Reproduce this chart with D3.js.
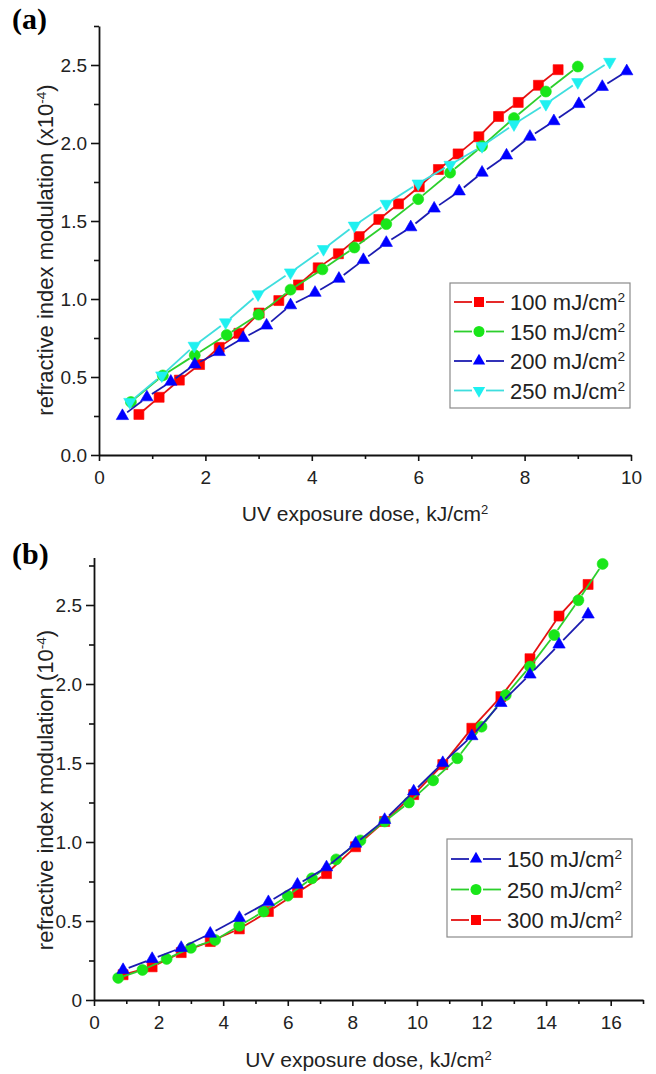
<!DOCTYPE html>
<html>
<head>
<meta charset="utf-8">
<script src="https://cdn.jsdelivr.net/npm/d3@7"></script>
<style>
  body { margin: 0; background: #fff; }
  svg text { fill: #222; }
</style>
</head>
<body>
<div id="chart"></div>
<script>
// panel (a): dose (kJ/cm2) and modulation (x10^-4) per intensity
var a100Dose = [0.75, 1.13, 1.51, 1.89, 2.26, 2.63, 3.01, 3.38, 3.75, 4.12, 4.50, 4.89, 5.26, 5.63, 6.02, 6.38, 6.75, 7.14, 7.51, 7.88, 8.26, 8.63];
var a100Mod  = [0.26, 0.37, 0.48, 0.58, 0.69, 0.78, 0.91, 0.99, 1.09, 1.20, 1.29, 1.40, 1.51, 1.61, 1.72, 1.83, 1.93, 2.04, 2.17, 2.26, 2.37, 2.47];
var a150Dose = [0.6, 1.2, 1.8, 2.4, 3.0, 3.6, 4.2, 4.8, 5.4, 6.0, 6.6, 7.2, 7.8, 8.4, 9.0];
var a150Mod  = [0.34, 0.51, 0.64, 0.77, 0.90, 1.06, 1.19, 1.33, 1.48, 1.64, 1.81, 1.98, 2.16, 2.33, 2.49];
var a200Dose = [0.44, 0.90, 1.35, 1.80, 2.26, 2.71, 3.15, 3.60, 4.06, 4.51, 4.97, 5.40, 5.86, 6.30, 6.77, 7.20, 7.66, 8.10, 8.55, 9.02, 9.46, 9.92];
var a200Mod  = [0.25, 0.37, 0.47, 0.58, 0.66, 0.75, 0.83, 0.96, 1.04, 1.13, 1.25, 1.36, 1.46, 1.58, 1.69, 1.81, 1.92, 2.04, 2.14, 2.25, 2.36, 2.46];
var a250Dose = [0.58, 1.18, 1.79, 2.38, 2.99, 3.60, 4.22, 4.80, 5.40, 6.00, 6.60, 7.20, 7.80, 8.40, 9.00, 9.60];
var a250Mod  = [0.34, 0.51, 0.70, 0.85, 1.03, 1.17, 1.32, 1.47, 1.61, 1.74, 1.86, 1.98, 2.12, 2.25, 2.39, 2.52];

// panel (b)
var b150Dose = [0.9, 1.8, 2.7, 3.6, 4.5, 5.4, 6.3, 7.2, 8.1, 9.0, 9.9, 10.8, 11.7, 12.6, 13.5, 14.4, 15.3];
var b150Mod  = [0.19, 0.26, 0.33, 0.42, 0.52, 0.62, 0.73, 0.84, 0.99, 1.14, 1.32, 1.50, 1.67, 1.88, 2.06, 2.25, 2.44];
var b250Dose = [0.75, 1.5, 2.25, 3.0, 3.75, 4.5, 5.25, 6.0, 6.75, 7.5, 8.25, 9.0, 9.75, 10.5, 11.25, 12.0, 12.75, 13.5, 14.25, 15.0, 15.75];
var b250Mod  = [0.14, 0.19, 0.26, 0.33, 0.38, 0.47, 0.56, 0.66, 0.77, 0.89, 1.01, 1.13, 1.25, 1.39, 1.53, 1.73, 1.93, 2.11, 2.31, 2.53, 2.76];
var b300Dose = [0.9, 1.8, 2.7, 3.6, 4.5, 5.4, 6.3, 7.2, 8.1, 9.0, 9.9, 10.8, 11.7, 12.6, 13.5, 14.4, 15.3];
var b300Mod  = [0.16, 0.21, 0.30, 0.37, 0.45, 0.56, 0.68, 0.80, 0.97, 1.13, 1.30, 1.49, 1.72, 1.92, 2.16, 2.43, 2.63];

// ticks
var aXMajor = [0, 2, 4, 6, 8, 10];
var aXMinor = [1, 3, 5, 7, 9];
var bXMajor = [0, 2, 4, 6, 8, 10, 12, 14, 16];
var bXMinor = [1, 3, 5, 7, 9, 11, 13, 15, 17];
var yMajor = [0, 0.5, 1.0, 1.5, 2.0, 2.5];
var yMinor = [0.25, 0.75, 1.25, 1.75, 2.25, 2.75];

var SANS = "'Liberation Sans', Arial, sans-serif";
var SERIF = "'Liberation Serif', 'Times New Roman', serif";

var RED = {marker: "#ff0000", line: "#e31212"};
var GREEN = {marker: "#19e619", line: "#2ccf2c"};
var BLUE = {marker: "#0000ff", line: "#1c1cb0"};
var CYAN = {marker: "#1ff0f0", line: "#3fdede"};

var svg = d3.select("#chart").append("svg")
    .attr("width", 656)
    .attr("height", 1074)
    .style("font-family", SANS);

function markerPath(shape) {
    if (shape == "square") return d3.symbol().type(d3.symbolSquare).size(100)();
    if (shape == "circle") return d3.symbol().type(d3.symbolCircle).size(95)();
    return d3.symbol().type(d3.symbolTriangle).size(66)();
}

function drawSeries(g, x, y, s) {
    var pts = s.dose.map(function(d, i) { return [x(d), y(s.mod[i])]; });
    var gap = 6;
    var segs = [];
    for (var i = 1; i < pts.length; i++) {
        var dx = pts[i][0] - pts[i-1][0], dy = pts[i][1] - pts[i-1][1];
        var len = Math.sqrt(dx*dx + dy*dy);
        if (len <= gap * 2) continue;
        var ux = dx / len, uy = dy / len;
        segs.push([pts[i-1][0] + ux*gap, pts[i-1][1] + uy*gap, pts[i][0] - ux*gap, pts[i][1] - uy*gap]);
    }
    g.append("g").selectAll("line").data(segs).join("line")
        .attr("x1", function(d) { return d[0]; })
        .attr("y1", function(d) { return d[1]; })
        .attr("x2", function(d) { return d[2]; })
        .attr("y2", function(d) { return d[3]; })
        .attr("stroke", s.color.line)
        .attr("stroke-width", 1.8);
    g.append("g").selectAll("path").data(pts).join("path")
        .attr("d", markerPath(s.shape))
        .attr("transform", function(d) {
            return "translate(" + d[0] + "," + d[1] + ")" + (s.shape == "down" ? " rotate(180)" : "");
        })
        .attr("fill", s.color.marker)
        .attr("stroke", s.color.marker)
        .attr("stroke-width", 0.6);
}

function labelWithSup(sel, base, sup, after) {
    sel.append("tspan").text(base);
    sel.append("tspan").attr("font-size", "0.62em").attr("dy", "-0.55em").text(sup);
    if (after) sel.append("tspan").attr("dy", "0.34em").text(after);
}

function drawLegend(g, items, box) {
    g.append("rect")
        .attr("x", box.x).attr("y", box.y)
        .attr("width", box.w).attr("height", box.h)
        .attr("fill", "#fff")
        .attr("stroke", "#8a8a8a")
        .attr("stroke-width", 1.2);
    items.forEach(function(s, i) {
        var cy = box.y + box.first + i * box.step;
        var lx = box.x + 4;
        var row = g.append("g");
        row.append("line").attr("x1", lx).attr("x2", lx + 18).attr("y1", cy).attr("y2", cy)
            .attr("stroke", s.color.line).attr("stroke-width", 1.8);
        row.append("line").attr("x1", lx + 32).attr("x2", lx + 50).attr("y1", cy).attr("y2", cy)
            .attr("stroke", s.color.line).attr("stroke-width", 1.8);
        row.append("path")
            .attr("d", markerPath(s.shape))
            .attr("transform", "translate(" + (lx + 25) + "," + cy + ")" + (s.shape == "down" ? " rotate(180)" : ""))
            .attr("fill", s.color.marker);
        var t = row.append("text").attr("x", lx + 56).attr("y", cy + 8).attr("font-size", 22);
        labelWithSup(t, s.name + " mJ/cm", "2");
    });
}

function drawPanel(p) {
    var g = svg.append("g");
    var x = d3.scaleLinear().domain(p.xDomain).range([p.left, p.right]);
    var y = d3.scaleLinear().domain(p.yDomain).range([p.bottom, p.top]);

    // minor ticks first
    g.append("g").attr("transform", "translate(0," + p.bottom + ")")
        .call(d3.axisBottom(x).tickValues(p.xMinor).tickSize(4).tickFormat(""))
        .call(function(a) { a.select(".domain").remove(); });
    g.append("g").attr("transform", "translate(" + p.left + ",0)")
        .call(d3.axisLeft(y).tickValues(yMinor).tickSize(5).tickFormat(""))
        .call(function(a) { a.select(".domain").remove(); });

    var xAxis = g.append("g").attr("transform", "translate(0," + p.bottom + ")")
        .call(d3.axisBottom(x).tickValues(p.xMajor).tickSize(6).tickSizeOuter(0).tickPadding(10));
    var yAxis = g.append("g").attr("transform", "translate(" + p.left + ",0)")
        .call(d3.axisLeft(y).tickValues(yMajor).tickSize(8).tickSizeOuter(0).tickPadding(4).tickFormat(p.yFormat));

    [xAxis, yAxis].forEach(function(a) {
        a.attr("font-family", SANS).attr("font-size", 19);
        a.select(".domain").attr("stroke", "#111").attr("stroke-width", 1.8);
        a.selectAll("text").attr("fill", "#222");
    });
    g.selectAll(".tick line").attr("stroke", "#111").attr("stroke-width", 1.6);

    var xl = g.append("text").attr("x", (p.left + p.right) / 2).attr("y", p.xLabelY)
        .attr("text-anchor", "middle").attr("font-size", 21);
    labelWithSup(xl, "UV exposure dose, kJ/cm", "2");

    var yl = g.append("text")
        .attr("transform", "translate(" + p.yLabelX + "," + p.yLabelCy + ") rotate(-90)")
        .attr("text-anchor", "middle").attr("font-size", 22);
    labelWithSup(yl, p.yLabel[0], "-4", p.yLabel[1]);

    g.append("text").attr("x", 12).attr("y", p.tagY)
        .style("font-family", SERIF)
        .attr("font-weight", "bold").attr("font-size", 30)
        .style("fill", "#000")
        .text(p.tag);

    p.series.forEach(function(s) { drawSeries(g, x, y, s); });
    drawLegend(g, p.legend, p.legendBox);
}

var aSeries = [
    {name: "100", dose: a100Dose, mod: a100Mod, color: RED, shape: "square"},
    {name: "150", dose: a150Dose, mod: a150Mod, color: GREEN, shape: "circle"},
    {name: "200", dose: a200Dose, mod: a200Mod, color: BLUE, shape: "up"},
    {name: "250", dose: a250Dose, mod: a250Mod, color: CYAN, shape: "down"}
];
var bBlue = {name: "150", dose: b150Dose, mod: b150Mod, color: BLUE, shape: "up"};
var bGreen = {name: "250", dose: b250Dose, mod: b250Mod, color: GREEN, shape: "circle"};
var bRed = {name: "300", dose: b300Dose, mod: b300Mod, color: RED, shape: "square"};

drawPanel({
    tag: "(a)", tagY: 29,
    left: 99, right: 631, bottom: 455, top: 26,
    xDomain: [0, 10], yDomain: [0, 2.75],
    xMajor: aXMajor, xMinor: aXMinor,
    yFormat: d3.format(".1f"),
    xLabelY: 521,
    yLabelX: 53, yLabelCy: 250,
    yLabel: ["refractive index modulation (x10", ")"],
    series: aSeries,
    legend: aSeries,
    legendBox: {x: 450, y: 283, w: 180, h: 125, first: 19, step: 29.5}
});

drawPanel({
    tag: "(b)", tagY: 564,
    left: 94, right: 643, bottom: 1000, top: 557.6,
    xDomain: [0, 17], yDomain: [0, 2.8],
    xMajor: bXMajor, xMinor: bXMinor,
    yFormat: function(d) { return d == 0 ? "0" : d3.format(".1f")(d); },
    xLabelY: 1067,
    yLabelX: 53, yLabelCy: 790,
    yLabel: ["refractive index modulation (10", ")"],
    series: [bRed, bGreen, bBlue],
    legend: [bBlue, bGreen, bRed],
    legendBox: {x: 447, y: 839, w: 185, h: 98, first: 20, step: 30.5}
});
</script>
</body>
</html>
